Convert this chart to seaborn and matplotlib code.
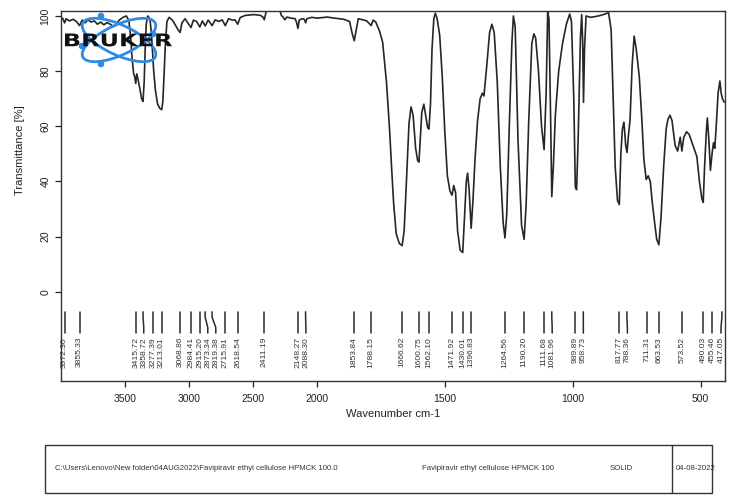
import numpy as np
import seaborn as sns
import matplotlib
matplotlib.use("Agg")
import matplotlib.pyplot as plt
from matplotlib.patches import Ellipse, Rectangle, Circle, PathPatch
from matplotlib.textpath import TextPath
from matplotlib.font_manager import FontProperties
from matplotlib.transforms import Affine2D

# spectrum (cm-1, %T)
wavenumber = [
    3998, 3985, 3972, 3960, 3935, 3905, 3880, 3855, 3835, 3810, 3790, 3765, 3740, 3715,
    3690, 3665, 3640, 3615, 3590, 3570, 3545, 3515, 3490, 3470, 3455, 3445, 3432, 3424,
    3416, 3408, 3398, 3385, 3370, 3359, 3350, 3342, 3334, 3322, 3305, 3292, 3277, 3262,
    3245, 3228, 3213, 3204, 3195, 3185, 3172, 3155, 3130, 3110, 3085, 3069, 3055, 3030,
    3005, 2984, 2965, 2940, 2915, 2895, 2873, 2850, 2819, 2795, 2765, 2740, 2716, 2690,
    2660, 2640, 2619, 2600, 2560, 2490, 2440, 2420, 2411, 2402, 2390, 2295, 2278, 2262,
    2250, 2235, 2200, 2170, 2158, 2148, 2138, 2115, 2098, 2088, 2078, 2040, 2000, 1960,
    1930, 1895, 1872, 1863, 1854, 1846, 1838, 1820, 1805, 1795, 1788, 1780, 1770, 1755,
    1743, 1728, 1716, 1708, 1700, 1690, 1678, 1667, 1659, 1650, 1640, 1632, 1624, 1614,
    1606, 1601, 1596, 1590, 1582, 1575, 1567, 1562, 1556, 1550, 1543, 1537, 1530, 1520,
    1510, 1500, 1490, 1480, 1472, 1465, 1458, 1450, 1440, 1430, 1424, 1416, 1411, 1405,
    1397, 1390, 1382, 1372, 1362, 1353, 1347, 1336, 1325, 1316, 1307, 1295, 1283, 1272,
    1265, 1258, 1248, 1238, 1232, 1225, 1214, 1200, 1190, 1182, 1172, 1160, 1152, 1145,
    1134, 1122, 1112, 1104, 1098, 1093, 1086, 1082, 1076, 1068, 1055, 1040, 1025, 1012,
    1005, 996, 990, 985, 979, 970, 965, 961, 958, 954, 948, 930, 900, 880,
    860, 850, 842, 834, 825, 818, 812, 806, 800, 793, 788, 783, 776, 768,
    760, 752, 740, 730, 722, 713, 705, 697, 690, 680, 672, 663.5, 655, 645,
    635, 628, 620, 612, 600, 590, 580, 573.5, 566, 555, 545, 530, 515, 505,
    495, 490, 485, 478, 474, 468, 462, 455, 450, 445, 440, 432, 425, 420,
    415, 408,
]
transmittance = [
    99.5, 99.0, 97.5, 99.0, 98.2, 98.8, 98.0, 96.5, 98.5, 97.5, 98.6, 97.8, 98.2, 97.0,
    97.8, 96.8, 97.6, 97.0, 96.2, 96.8, 98.5, 99.5, 100.0, 98.5, 92, 85, 79, 78,
    75.5, 79, 77, 74, 70, 69, 76, 88, 97, 100, 99, 93, 81, 73,
    68, 66.5, 66, 69, 78, 89, 98, 99.5, 98.5, 97, 95, 94, 97.5, 99,
    97.2, 95.8, 98.5, 98, 96, 98.2, 96.4, 98.5, 96.5, 98.6, 98, 98.6, 96.5, 99,
    98.5, 98.6, 97, 99.4, 100.2, 100.5, 100.2, 99.5, 98.6, 100.4, 103, 103, 100.2, 99.5,
    98.6, 99.6, 99.2, 99, 97.5, 95.5, 98.5, 99, 98.8, 97.5, 99, 99.5, 99.2, 99.6,
    99.2, 98.8, 98, 94, 91, 95, 99, 98.6, 98.2, 97.2, 96.5, 98.5, 97.8, 94.5,
    90.5, 76, 59, 45, 32, 21, 17.5, 16.7, 22, 40, 61, 67, 64, 52,
    47.5, 47, 55, 65, 68, 64, 59.5, 59, 68, 88, 99, 101, 99, 93,
    78, 58, 42, 36.5, 35, 38.5, 36, 22, 15, 14.2, 25, 40, 43, 37,
    23, 33, 48, 62, 70, 72, 71, 82, 94, 97, 94, 76, 45, 25,
    19.5, 28, 60, 90, 100, 96, 55, 24, 19, 32, 62, 90, 93.5, 92,
    80, 60, 51.5, 72, 101.5, 99, 60, 34.5, 45, 64, 80, 90, 97, 100.7,
    98, 70, 38, 37, 55, 92, 100.5, 90, 68.7, 88, 100, 99.5, 100, 100.5,
    101.2, 95, 70, 45, 33, 31.6, 50, 59, 61.5, 53, 50.5, 56, 62.5, 82,
    92.7, 88, 78, 62.5, 48, 40.7, 42, 40, 33, 25, 19, 17, 27, 45,
    59, 62.5, 64, 62, 53, 51, 56, 51, 56, 58, 57, 53, 49, 40,
    33.5, 32.4, 45, 58, 63, 55, 44, 50.5, 54, 52, 59, 72, 76.4, 72,
    70, 68.7,
]

peak_wavenumbers = [
    3972.30, 3855.33, 3415.72, 3358.72, 3277.39, 3213.01, 3068.86, 2984.41, 2915.20,
    2873.34, 2819.38, 2715.91, 2618.54, 2411.19, 2148.27, 2088.30, 1853.84, 1788.15,
    1666.62, 1600.75, 1562.10, 1471.92, 1430.01, 1396.83, 1264.56, 1190.20, 1111.68,
    1081.96, 989.89, 958.73, 817.77, 788.36, 711.31, 663.53, 573.52, 490.03, 455.46,
    417.05,
]

x_ticks = [3500, 3000, 2500, 2000, 1500, 1000, 500]
y_ticks = [0, 20, 40, 60, 80, 100]

footer_path = r"C:\Users\Lenovo\New folder\04AUG2022\Favipiravir ethyl cellulose HPMCK 100.0"
footer_sample = "Favipiravir ethyl cellulose HPMCK 100"
footer_state = "SOLID"
footer_date = "04-08-2022"

sns.set_theme(style="ticks")
plt.rcParams["font.family"] = ["Liberation Sans", "DejaVu Sans"]

W, H = 736, 501
fig = plt.figure(figsize=(W / 100, H / 100), dpi=100)
ax = fig.add_axes([61 / W, 1 - 381 / H, (725 - 61) / W, (381 - 11) / H])


# OPUS style axis: scale doubles below 2000 cm-1
def fwd(w):
    w = np.asarray(w, dtype=float)
    return np.where(w >= 2000, w, 2 * w - 2000)


def inv(u):
    u = np.asarray(u, dtype=float)
    return np.where(u >= 2000, u, (u + 2000) / 2)


ax.set_xscale("function", functions=(fwd, inv))
ax.set_xlim(4000, 405)
ax.set_ylim(-32.4, 101.8)

sns.lineplot(x=wavenumber, y=transmittance, ax=ax, color="#262626", lw=1.2,
             sort=False, estimator=None)

ax.set_xticks(x_ticks)
ax.set_xticklabels([str(t) for t in x_ticks])
ax.set_yticks(y_ticks)
ax.set_yticklabels([str(t) for t in y_ticks])
ax.tick_params(axis="both", labelsize=7.5, colors="#222222", length=4, width=0.9)
ax.tick_params(axis="x", pad=5)
ax.tick_params(axis="y", labelrotation=90)
for lab in ax.get_yticklabels():
    lab.set_va("center")
for s in ax.spines.values():
    s.set_color("#333333")
    s.set_linewidth(1.0)
ax.set_xlabel("Wavenumber cm-1", fontsize=8, color="#222222", labelpad=4)
fig.text(20 / W, 1 - 150 / H, "Transmittance [%]", rotation=90, ha="center",
         va="center", fontsize=8, color="#222222")

# peak markers, labels pushed apart where crowded
peak_px = [ax.transData.transform((w, 0))[0] for w in peak_wavenumbers]
gap = 8.0
lab_px = list(peak_px)
for i in range(1, len(lab_px)):
    lab_px[i] = max(lab_px[i], lab_px[i - 1] + gap)
lab_px[-1] = min(lab_px[-1], 721)
for i in range(len(lab_px) - 2, -1, -1):
    lab_px[i] = min(lab_px[i], lab_px[i + 1] - gap)
inv_tr = ax.transData.inverted()
for w, px, lx in zip(peak_wavenumbers, peak_px, lab_px):
    lw_ = inv_tr.transform((lx, 0))[0]
    ax.plot([w, w, lw_, lw_], [-7.3, -9.2, -13.0, -15.0], color="#2a2a2a",
            lw=1.1, clip_on=False)
    ax.text(lw_, -16.4, f"{w:.2f}", rotation=90, ha="center", va="top",
            fontsize=6.1, color="#333333", clip_on=False)

# overlay in pixel units for logo and footer
ov = fig.add_axes([0, 0, 1, 1])
ov.set_xlim(0, W)
ov.set_ylim(H, 0)
ov.axis("off")
ov.patch.set_alpha(0)

blue = "#2f8ae6"
for ang in (25, -25):
    ov.add_patch(Ellipse((119, 40), 80, 30, angle=ang, fill=False, ec=blue, lw=2.0))
for cx, cy in [(101, 16), (101, 64), (82, 46), (153, 34)]:
    ov.add_patch(Circle((cx, cy), 2.6, color=blue))

tp = TextPath((0, 0), "BRUKER", size=10,
              prop=FontProperties(family="DejaVu Sans", weight="bold"))
bb = tp.get_extents()
sx = 107 / bb.width
sy = 13 / bb.height
tr = Affine2D().translate(-bb.x0, -bb.y0).scale(sx, -sy).translate(65, 46.5)
ov.add_patch(PathPatch(tr.transform_path(tp), fc="#111111", ec="none"))

ov.add_patch(Rectangle((45, 445), 667, 48, fill=False, ec="#333333", lw=1.0))
ov.plot([672, 672], [445, 493], color="#333333", lw=1.0)
ov.text(55, 469, footer_path, fontsize=5.6, va="center", color="#333333")
ov.text(422, 469, footer_sample, fontsize=5.6, va="center", color="#333333")
ov.text(610, 469, footer_state, fontsize=5.6, va="center", color="#333333")
ov.text(676, 469, footer_date, fontsize=5.6, va="center", color="#333333")

fig.savefig("out.png", dpi=100, facecolor="white")
